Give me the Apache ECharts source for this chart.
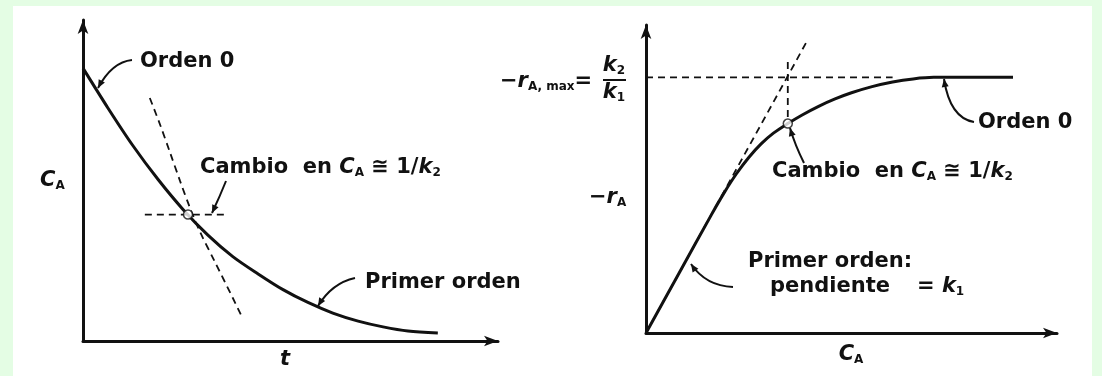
<!DOCTYPE html>
<html>
<head>
<meta charset="utf-8">
<script src="https://cdn.jsdelivr.net/npm/echarts@6/dist/echarts.min.js"></script>
<style>
  html, body { margin: 0; padding: 0; background: #e4fde4; }
  #chart { width: 1102px; height: 376px; }
</style>
</head>
<body>
<div id="chart"></div>
<script>
// ---- Left panel: C_A versus t ----
const decayT = [0, 6.0, 12.0, 18.1, 24.1, 30.1, 36.1, 42.2, 48.2, 54.2, 60.2, 66.3, 72.3, 78.3, 85.5];
const decayC = [85.0, 72.6, 60.9, 50.3, 41.0, 33.0, 26.3, 20.9, 16.0, 12.0, 8.7, 6.2, 4.4, 3.1, 2.5];
// dashed first-order reference curve
const steepT = [16.1, 18.6, 21.0, 23.4, 25.8, 28.2, 31.8, 36.1, 38.3];
const steepC = [75.7, 67.3, 58.6, 49.8, 41.4, 34.0, 24.6, 13.4, 7.5];
// short horizontal marker through the change point
const changeT = [14.9, 34.9];
const changeC = [39.4, 39.4];
const pointT = [25.3];
const pointC = [39.4];

// ---- Right panel: -r_A versus C_A ----
const rateCA = [0, 8, 16, 19, 22, 25, 28, 31, 34.5, 38, 42, 46, 50, 55, 60, 65, 70, 89.3];
const rateR = [0, 19.3, 38.6, 45.5, 51.7, 57.0, 61.4, 64.9, 68.0, 70.8, 73.6, 76.0, 78.0, 80.0, 81.5, 82.5, 83.0, 83.0];
const levelCA = [0, 60.0];
const levelR = [83.0, 83.0];
const slopeCA = [0, 39.4];
const slopeR = [0, 95.3];
const dropCA = [34.5, 34.5];
const dropR = [88.0, 68.0];
const kneeCA = [34.5];
const kneeR = [68.0];

const zip = (a, b) => a.map((v, i) => [v, b[i]]);

const INK = '#111';
const FONT = '"DejaVu Sans", sans-serif';
const rich = {
  it: { fontFamily: FONT, fontSize: 21, fontStyle: 'italic', fontWeight: 'bold', fill: INK },
  sub: { fontFamily: FONT, fontSize: 12, fontWeight: 'bold', fill: INK, verticalAlign: 'bottom', padding: [8, 0, 0, 0] }
};

function label(x, y, text, align) {
  return {
    type: 'text', x: x, y: y, silent: true,
    style: {
      text: text, rich: rich, fill: INK,
      font: 'bold 21px ' + FONT,
      align: align || 'left', verticalAlign: 'middle'
    }
  };
}

// curved leader with a small arrowhead at (x2, y2)
function leader(x1, y1, cx, cy, x2, y2) {
  const dx = x2 - cx, dy = y2 - cy;
  const len = Math.hypot(dx, dy) || 1;
  const ux = dx / len, uy = dy / len;
  const bx = x2 - ux * 8, by = y2 - uy * 8;
  return [
    { type: 'bezierCurve', silent: true,
      shape: { x1: x1, y1: y1, cpx1: cx, cpy1: cy, x2: x2, y2: y2 },
      style: { stroke: INK, lineWidth: 2, fill: null } },
    { type: 'polygon', silent: true,
      shape: { points: [[x2, y2], [bx - uy * 3.5, by + ux * 3.5], [bx + uy * 3.5, by - ux * 3.5]] },
      style: { fill: INK } }
  ];
}

function axisStyle() {
  return {
    type: 'value', min: 0, max: 100,
    axisLine: { show: true, onZero: false, symbol: ['none', 'arrow'], symbolSize: [8, 14],
      lineStyle: { color: INK, width: 3 } },
    axisTick: { show: false }, axisLabel: { show: false }, splitLine: { show: false }
  };
}

const solid = { color: INK, width: 3 };
const dashed = { color: INK, width: 1.8, type: [7, 5] };

const chart = echarts.init(document.getElementById('chart'), null, { renderer: 'canvas' });
chart.setOption({
  animation: false,
  backgroundColor: '#e4fde4',
  grid: [
    { left: 83, top: 20, width: 415, height: 321 },
    { left: 646, top: 25, width: 411, height: 308 }
  ],
  xAxis: [Object.assign(axisStyle(), { gridIndex: 0 }), Object.assign(axisStyle(), { gridIndex: 1 })],
  yAxis: [Object.assign(axisStyle(), { gridIndex: 0 }), Object.assign(axisStyle(), { gridIndex: 1 })],
  series: [
    { type: 'line', xAxisIndex: 0, yAxisIndex: 0, data: zip(decayT, decayC), smooth: 0.3,
      showSymbol: false, lineStyle: solid, z: 3 },
    { type: 'line', xAxisIndex: 0, yAxisIndex: 0, data: zip(steepT, steepC), smooth: 0.3,
      showSymbol: false, lineStyle: dashed },
    { type: 'line', xAxisIndex: 0, yAxisIndex: 0, data: zip(changeT, changeC),
      showSymbol: false, lineStyle: dashed },
    { type: 'scatter', xAxisIndex: 0, yAxisIndex: 0, data: zip(pointT, pointC), symbolSize: 9,
      itemStyle: { color: '#fff', borderColor: INK, borderWidth: 1.5 }, z: 5 },

    { type: 'line', xAxisIndex: 1, yAxisIndex: 1, data: zip(rateCA, rateR), smooth: 0.3,
      showSymbol: false, lineStyle: solid, z: 3 },
    { type: 'line', xAxisIndex: 1, yAxisIndex: 1, data: zip(levelCA, levelR),
      showSymbol: false, lineStyle: dashed },
    { type: 'line', xAxisIndex: 1, yAxisIndex: 1, data: zip(slopeCA, slopeR),
      showSymbol: false, lineStyle: dashed },
    { type: 'line', xAxisIndex: 1, yAxisIndex: 1, data: zip(dropCA, dropR),
      showSymbol: false, lineStyle: dashed },
    { type: 'scatter', xAxisIndex: 1, yAxisIndex: 1, data: zip(kneeCA, kneeR), symbolSize: 9,
      itemStyle: { color: '#fff', borderColor: INK, borderWidth: 1.5 }, z: 5 }
  ],
  graphic: [
    { type: 'rect', z: -10, silent: true, shape: { x: 13, y: 6, width: 1079, height: 370 },
      style: { fill: '#ffffff' } },

    // left panel texts
    label(140, 62, 'Orden 0'),
    label(200, 168, 'Cambio  en {it|C}{sub|A} ≅ 1/{it|k}{sub|2}'),
    label(365, 283, 'Primer orden'),
    label(40, 181, '{it|C}{sub|A}'),
    label(285, 360, '{it|t}', 'center'),

    // right panel texts
    label(500, 82, '−{it|r}{sub|A, max}='),
    label(614, 66, '{it|k}{sub|2}', 'center'),
    { type: 'line', silent: true, shape: { x1: 603, y1: 80, x2: 626, y2: 80 },
      style: { stroke: INK, lineWidth: 2 } },
    label(614, 93, '{it|k}{sub|1}', 'center'),
    label(978, 123, 'Orden 0'),
    label(772, 172, 'Cambio  en {it|C}{sub|A} ≅ 1/{it|k}{sub|2}'),
    label(589, 198, '−{it|r}{sub|A}'),
    label(748, 262, 'Primer orden:'),
    label(770, 287, 'pendiente'),
    label(917, 287, '= {it|k}{sub|1}'),
    label(851, 355, '{it|C}{sub|A}', 'center')
  ]
    .concat(leader(132, 60, 112, 62, 98, 88))
    .concat(leader(226, 181, 220, 196, 212, 213))
    .concat(leader(355, 278, 332, 283, 318, 306))
    .concat(leader(974, 122, 950, 118, 944, 79))
    .concat(leader(804, 163, 795, 145, 790, 128))
    .concat(leader(733, 287, 706, 286, 691, 264))
});
</script>
</body>
</html>
